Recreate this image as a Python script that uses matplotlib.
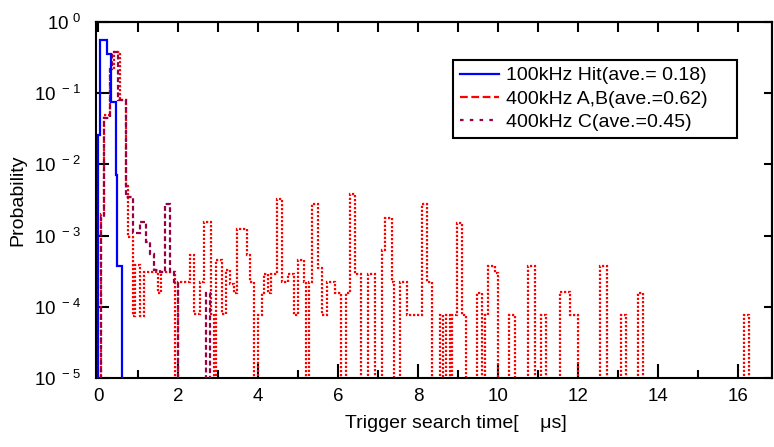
import numpy as np
import matplotlib
matplotlib.use("Agg")
import matplotlib.pyplot as plt
from matplotlib.lines import Line2D
from matplotlib.ticker import FixedLocator, FuncFormatter, NullFormatter

plt.rcParams['font.family'] = ['Liberation Sans', 'DejaVu Sans']
plt.rcParams['mathtext.fontset'] = 'custom'
plt.rcParams['mathtext.rm'] = 'Liberation Sans'
plt.rcParams['mathtext.default'] = 'regular'

# ---- histogram data: bin edges [us] and probability per bin ----
hit_edges = [0.0, 0.05, 0.22, 0.32, 0.43, 0.46, 0.59]
hit_prob = [0.026, 0.55, 0.36, 0.075, 0.0072, 3.8e-4]

ab_edges = [0.06, 0.13, 0.30, 0.40, 0.54, 0.69, 0.75, 0.86, 0.92, 1.05,
            1.14, 1.49, 1.57, 1.92, 2.00, 2.28, 2.38, 2.53, 2.65, 2.82,
            2.88, 2.95, 3.08, 3.19, 3.28, 3.40, 3.47, 3.71, 3.78, 3.90,
            3.98, 4.08, 4.14, 4.25, 4.32, 4.46, 4.60, 4.75, 4.88, 5.00,
            5.13, 5.20, 5.27, 5.33, 5.50, 5.58, 5.71, 5.92, 6.06, 6.19,
            6.29, 6.42, 6.56, 6.75, 6.92, 7.08, 7.17, 7.33, 7.40, 7.54,
            7.71, 8.08, 8.21, 8.33, 8.54, 8.62, 8.68, 8.79, 8.83, 8.96,
            9.10, 9.20, 9.46, 9.60, 9.67, 9.75, 9.92, 10.00, 10.27, 10.41,
            10.73, 10.92, 11.07, 11.19, 11.54, 11.78, 11.98, 12.54, 12.71, 13.07,
            13.19, 13.48, 13.61, 16.15, 16.27]
ab_prob = [2.0e-3, 0.05, 0.22, 0.38, 0.08, 5.0e-3, 9.6e-4, 7.4e-5, 3.9e-4,
           7.4e-5, 3.1e-4, 1.55e-4, 3.1e-4, 0, 2.2e-4, 5.3e-4, 8.0e-5, 2.2e-4,
           1.57e-3, 8.0e-5, 0, 4.5e-4, 8.0e-5, 3.3e-4, 2.1e-4, 1.55e-4, 1.23e-3,
           5.3e-4, 2.2e-4, 0, 7.7e-5, 1.55e-4, 2.9e-4, 1.55e-4, 2.9e-4, 3.3e-3,
           2.2e-4, 2.9e-4, 7.7e-5, 4.5e-4, 2.2e-4, 0, 2.2e-4, 2.8e-3, 3.5e-4,
           7.7e-5, 2.2e-4, 1.55e-4, 0, 1.55e-4, 3.9e-3, 2.9e-4, 0, 2.9e-4, 0,
           6.2e-4, 1.75e-3, 2.2e-4, 0, 2.2e-4, 7.7e-5, 2.8e-3, 2.2e-4, 0,
           7.7e-5, 0, 7.7e-5, 0, 7.7e-5, 1.5e-3, 7.7e-5, 0, 1.55e-4, 0, 7.7e-5,
           3.7e-4, 3.0e-4, 0, 7.7e-5, 0, 3.7e-4, 0, 7.7e-5, 0, 1.6e-4, 7.7e-5,
           0, 3.7e-4, 0, 7.7e-5, 0, 1.55e-4, 0, 7.7e-5]

c_edges = [0.06, 0.13, 0.30, 0.34, 0.49, 0.69, 0.86, 1.05, 1.20, 1.29,
           1.38, 1.55, 1.66, 1.78, 1.90, 1.98, 2.68, 2.78]
c_prob = [1.8e-3, 0.045, 0.22, 0.38, 0.08, 3.5e-3, 1.1e-3, 1.55e-3, 8.0e-4,
          5.5e-4, 3.3e-4, 3.1e-4, 2.8e-3, 3.1e-4, 2.2e-4, 0, 1.55e-4]

labels = ['100kHz Hit(ave.= 0.18)', '400kHz A,B(ave.=0.62)', '400kHz C(ave.=0.45)']
colors = ['#0000ff', '#ff0000', '#990044']

FLOOR = 1e-7  # empty bins drop below the visible range

def floor(p):
    p = np.asarray(p, dtype=float)
    return np.where(p > 0, p, FLOOR)

fig = plt.figure(figsize=(7.74, 4.47), dpi=100)
ax = fig.add_axes([96.3 / 774, 69 / 447, 676 / 774, 356 / 447])

ax.stairs(floor(ab_prob), ab_edges, baseline=FLOOR, color=colors[1],
          lw=1.6, linestyle=(0, (1.0, 0.8)), zorder=2)
ax.stairs(floor(c_prob), c_edges, baseline=FLOOR, color=colors[2],
          lw=1.6, linestyle=(0, (2.2, 1.2)), zorder=3)
ax.stairs(floor(hit_prob), hit_edges, baseline=FLOOR, color=colors[0],
          lw=1.6, zorder=4)

ax.set_yscale('log')
ax.set_xlim(-0.05, 16.85)
ax.set_ylim(1e-5, 1)

for s in ax.spines.values():
    s.set_linewidth(1.5)

# x ticks: labelled every 2 us, short ticks on odd values
ax.xaxis.set_major_locator(FixedLocator(np.arange(0, 17, 2)))
ax.xaxis.set_minor_locator(FixedLocator(np.arange(1, 17, 2)))
ax.tick_params(axis='x', which='major', direction='in', length=10, width=1.5,
               labelsize=13.5, pad=7)
ax.tick_params(axis='x', which='minor', direction='in', length=6, width=1.5)

ax.yaxis.set_major_locator(FixedLocator([1e-5, 1e-4, 1e-3, 1e-2, 1e-1, 1]))
ax.yaxis.set_minor_locator(FixedLocator([]))
ax.yaxis.set_major_formatter(FuncFormatter(
    lambda v, pos: r'$10^{\ %d}$' % int(round(np.log10(v)))))
ax.tick_params(axis='y', which='major', direction='in', length=9, width=1.5,
               labelsize=13.5, pad=11)

top = ax.secondary_xaxis('top')
top.xaxis.set_major_locator(FixedLocator(np.arange(0, 17, 1)))
top.xaxis.set_major_formatter(NullFormatter())
top.tick_params(direction='in', length=7, width=1.5)
top.spines['top'].set_linewidth(1.5)

right = ax.secondary_yaxis('right')
right.yaxis.set_major_locator(FixedLocator([1e-5, 1e-4, 1e-3, 1e-2, 1e-1, 1]))
right.yaxis.set_minor_locator(FixedLocator([]))
right.yaxis.set_major_formatter(NullFormatter())
right.tick_params(direction='in', length=6, width=1.5)
right.spines['right'].set_linewidth(1.5)

ax.set_xlabel('Trigger search time[    \u03bcs]', fontsize=14)
ax.xaxis.set_label_coords((456 - 96.3) / 676, -0.105)
ax.set_ylabel('Probability', fontsize=14)
ax.yaxis.set_label_coords(-0.103, 0.5)

handles = [
    Line2D([], [], color=colors[0], lw=1.6),
    Line2D([], [], color=colors[1], lw=1.6, linestyle=(0, (3.5, 1.6))),
    Line2D([], [], color=colors[2], lw=1.6, linestyle=(0, (1.6, 2.8))),
]
leg_x0 = (453 - 96.3) / 676
leg_top = (378 - 60) / 356
leg_w = (737 - 453) / 676
leg = ax.legend(handles, labels, loc='upper left',
                bbox_to_anchor=(leg_x0, leg_top - 0.2, leg_w, 0.2),
                mode='expand', borderaxespad=0, fontsize=14,
                handlelength=2.0, handletextpad=0.4, labelspacing=0.3,
                borderpad=0.35, fancybox=False, framealpha=1,
                edgecolor='black')
leg.get_frame().set_linewidth(1.5)

fig.savefig('out.png', dpi=100)
